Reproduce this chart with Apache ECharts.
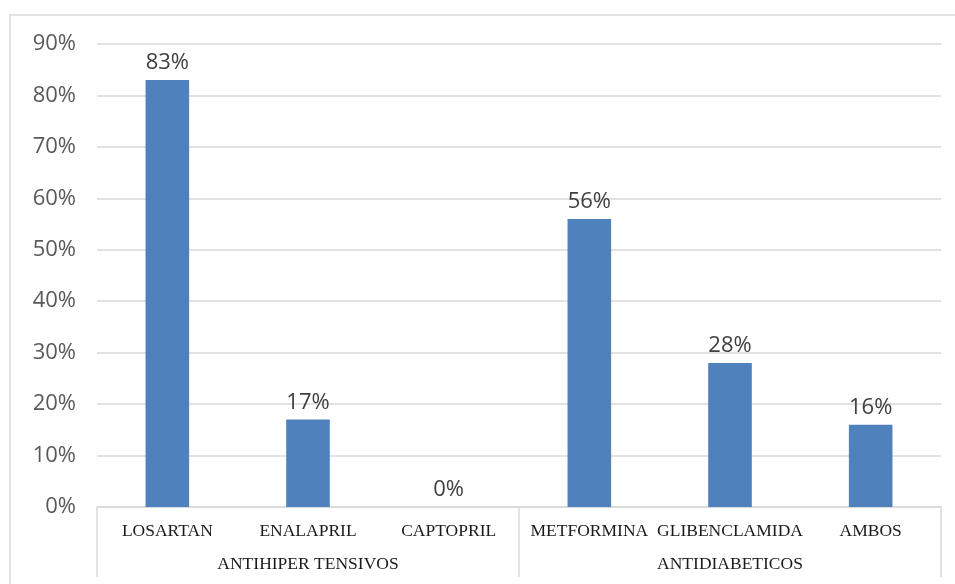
<!DOCTYPE html>
<html><head><meta charset="utf-8">
<script src="https://cdn.jsdelivr.net/npm/echarts@6/dist/echarts.min.js"></script>
<style>html,body{margin:0;padding:0;background:#fff}#c{width:955px;height:584px}</style>
</head><body><div id="c"></div>
<script>
const categories = ['LOSARTAN','ENALAPRIL','CAPTOPRIL','METFORMINA','GLIBENCLAMIDA','AMBOS'];
const groups = ['ANTIHIPER TENSIVOS','ANTIDIABETICOS'];
const values = [83,17,0,56,28,16];
const yTicks = {min:0, max:90, interval:10};

const chart = echarts.init(document.getElementById('c'), null, {renderer:'canvas'});
chart.setOption({
  animation:false,
  graphic:[{type:'rect', shape:{x:10,y:15,width:980,height:600}, style:{fill:'none', stroke:'#d9d9d9', lineWidth:1.5}, silent:true}],
  grid:{left:97, right:14, top:44, bottom:77},
  xAxis:[
    {type:'category', data:categories, position:'bottom',
     axisLine:{show:false}, axisTick:{show:false},
     axisLabel:{interval:0, margin:15, color:'#1a1a1a', fontFamily:'Liberation Serif', fontSize:17.5}},
    {type:'category', data:groups, position:'bottom', offset:0,
     axisLine:{show:true, lineStyle:{color:'#d9d9d9', width:1.5}},
     axisTick:{show:true, alignWithLabel:false, interval:0, length:70, lineStyle:{color:'#d9d9d9', width:1.5}},
     axisLabel:{interval:0, margin:48, color:'#1a1a1a', fontFamily:'Liberation Serif', fontSize:17.5}}
  ],
  yAxis:{type:'value', min:yTicks.min, max:yTicks.max, interval:yTicks.interval,
    axisLine:{show:false}, axisTick:{show:false},
    axisLabel:{formatter:'{value}%', color:'#595959', fontFamily:'Open Sans', fontSize:22, margin:21},
    splitLine:{lineStyle:{color:'#d9d9d9', width:1.5}}},
  series:[{type:'bar', data:values, xAxisIndex:0, barWidth:'31%',
    itemStyle:{color:'#4f81bd'},
    label:{show:true, position:'top', formatter:'{c}%', color:'#404040', fontFamily:'Open Sans', fontSize:22, distance:6}}]
});
</script></body></html>
